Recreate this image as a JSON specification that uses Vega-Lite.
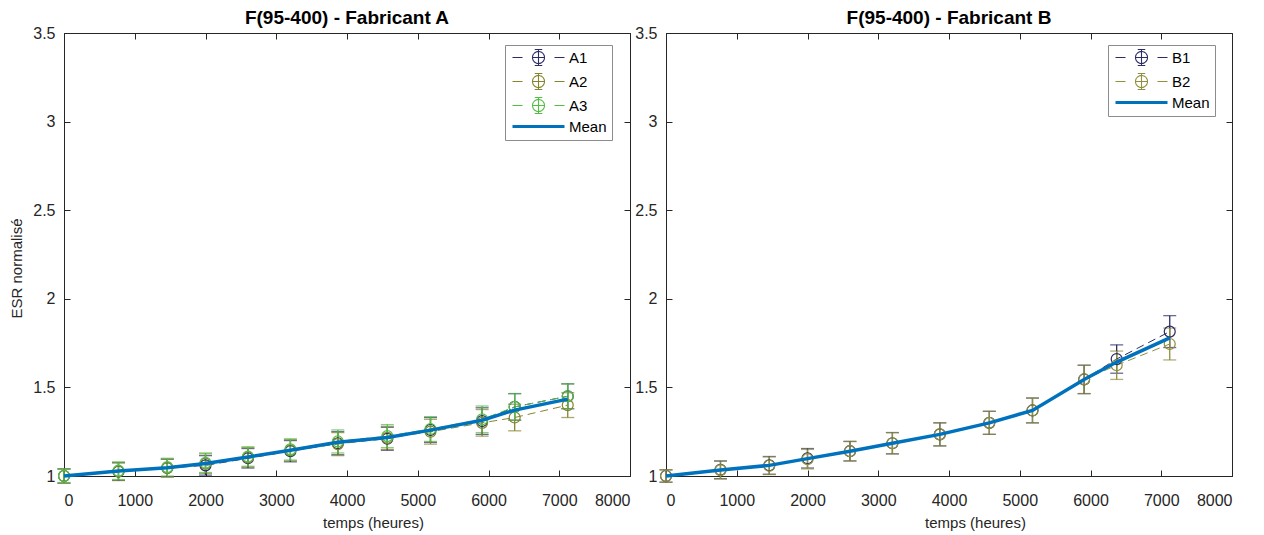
{
  "$schema": "https://vega.github.io/schema/vega-lite/v6.json",
  "background": "white",
  "padding": {"left": 9, "top": 8, "right": 5, "bottom": 5},
  "bounds": "flush",
  "spacing": 36,
  "config": {
    "font": "Liberation Sans",
    "view": {"stroke": "#262626", "strokeWidth": 1},
    "axis": {
      "domainColor": "#262626", "tickColor": "#262626", "labelColor": "#262626", "titleColor": "#262626",
      "labelFont": "Liberation Sans", "titleFont": "Liberation Sans", "labelFontSize": 16, "titleFontSize": 15,
      "titleFontWeight": "normal", "grid": false, "tickSize": -6
    },
    "legend": {"labelFont": "Liberation Sans", "labelFontSize": 15, "labelColor": "#000000"},
    "title": {"font": "Liberation Sans", "fontSize": 19, "fontWeight": "bold", "color": "#000000"}
  },
  "resolve": {"scale": {"color": "independent"}},
  "hconcat": [
    {
      "width": 566, "height": 443,
      "title": {"text": "F(95-400) - Fabricant A", "offset": -3},
      "data": {"values": [
        {"series": "A1", "t": 0, "v": 1.0, "err": 0.04},
        {"series": "A1", "t": 770, "v": 1.025, "err": 0.05},
        {"series": "A1", "t": 1460, "v": 1.045, "err": 0.05},
        {"series": "A1", "t": 2000, "v": 1.06, "err": 0.055},
        {"series": "A1", "t": 2600, "v": 1.10, "err": 0.055},
        {"series": "A1", "t": 3200, "v": 1.14, "err": 0.06},
        {"series": "A1", "t": 3870, "v": 1.185, "err": 0.065},
        {"series": "A1", "t": 4570, "v": 1.21, "err": 0.065},
        {"series": "A1", "t": 5180, "v": 1.26, "err": 0.07},
        {"series": "A1", "t": 5910, "v": 1.31, "err": 0.075},
        {"series": "A1", "t": 6370, "v": 1.39, "err": 0.075},
        {"series": "A1", "t": 7120, "v": 1.45, "err": 0.07},
        {"series": "A2", "t": 0, "v": 1.0, "err": 0.04},
        {"series": "A2", "t": 770, "v": 1.025, "err": 0.05},
        {"series": "A2", "t": 1460, "v": 1.045, "err": 0.05},
        {"series": "A2", "t": 2000, "v": 1.07, "err": 0.055},
        {"series": "A2", "t": 2600, "v": 1.105, "err": 0.055},
        {"series": "A2", "t": 3200, "v": 1.145, "err": 0.06},
        {"series": "A2", "t": 3870, "v": 1.18, "err": 0.065},
        {"series": "A2", "t": 4570, "v": 1.215, "err": 0.065},
        {"series": "A2", "t": 5180, "v": 1.25, "err": 0.07},
        {"series": "A2", "t": 5910, "v": 1.30, "err": 0.075},
        {"series": "A2", "t": 6370, "v": 1.33, "err": 0.075},
        {"series": "A2", "t": 7120, "v": 1.40, "err": 0.07},
        {"series": "A3", "t": 0, "v": 1.0, "err": 0.04},
        {"series": "A3", "t": 770, "v": 1.03, "err": 0.05},
        {"series": "A3", "t": 1460, "v": 1.05, "err": 0.05},
        {"series": "A3", "t": 2000, "v": 1.075, "err": 0.055},
        {"series": "A3", "t": 2600, "v": 1.11, "err": 0.055},
        {"series": "A3", "t": 3200, "v": 1.15, "err": 0.06},
        {"series": "A3", "t": 3870, "v": 1.195, "err": 0.065},
        {"series": "A3", "t": 4570, "v": 1.225, "err": 0.065},
        {"series": "A3", "t": 5180, "v": 1.265, "err": 0.07},
        {"series": "A3", "t": 5910, "v": 1.32, "err": 0.075},
        {"series": "A3", "t": 6370, "v": 1.39, "err": 0.075},
        {"series": "A3", "t": 7120, "v": 1.45, "err": 0.07},
        {"series": "Mean", "t": 0, "v": 1.0},
        {"series": "Mean", "t": 770, "v": 1.028},
        {"series": "Mean", "t": 1460, "v": 1.047},
        {"series": "Mean", "t": 2000, "v": 1.07},
        {"series": "Mean", "t": 2600, "v": 1.107},
        {"series": "Mean", "t": 3200, "v": 1.145},
        {"series": "Mean", "t": 3870, "v": 1.19},
        {"series": "Mean", "t": 4570, "v": 1.217},
        {"series": "Mean", "t": 5180, "v": 1.259},
        {"series": "Mean", "t": 5910, "v": 1.315},
        {"series": "Mean", "t": 6370, "v": 1.372},
        {"series": "Mean", "t": 7120, "v": 1.434}
      ]},
      "encoding": {
        "color": {"field": "series", "type": "nominal",
                  "scale": {"domain": ["A1", "A2", "A3", "Mean"], "range": ["#2b2b66", "#85852e", "#52bf44", "#0072bd"]},
                  "legend": {
                    "title": null, "orient": "none", "legendX": 441, "legendY": 12,
                    "strokeColor": "#8c8c8c", "fillColor": "white", "padding": 5,
                    "symbolSize": 100, "symbolOffset": 21, "labelOffset": 23, "rowPadding": 3,
                    "symbolFillColor": "transparent", "symbolOpacity": 1,
                    "encode": {"symbols": {"update": {
                      "shape": {"signal": "datum.value === 'Mean' ? 'M-5.2,0H5.2' : 'M-5.2,0H-3.2M-1.2,0A1.2,1.2,0,1,1,1.2,0A1.2,1.2,0,1,1,-1.2,0M-1.2,0H1.2M0,-1.6V1.6M-0.75,-1.6H0.75M-0.75,1.6H0.75M3.2,0H5.2'"},
                      "strokeWidth": {"signal": "datum.value === 'Mean' ? 3 : 1.1"},
                      "size": {"value": 100},
                      "fill": {"value": "transparent"},
                      "fillOpacity": {"value": 0},
                      "strokeOpacity": {"value": 1},
                      "strokeDash": {"value": [1, 0]},
                      "opacity": {"value": 1}
                    }}}
                  }}
      },
      "resolve": {"axis": {"x": "independent", "y": "independent"}},
      "layer": [
        {
          "transform": [{"filter": "datum.series !== 'Mean'"}],
          "mark": {"type": "errorbar", "ticks": true, "size": 13, "thickness": 1.3},
          "encoding": {
            "x": {"field": "t", "type": "quantitative", "scale": {"domain": [0, 8000], "nice": false, "zero": false},
                  "axis": {"title": "temps (heures)", "titleX": 309, "values": [0,1000,2000,3000,4000,5000,6000,7000,8000], "format": "d", "labelPadding": 22, "titlePadding": 7}},
            "y": {"field": "v", "type": "quantitative", "scale": {"domain": [1, 3.5], "nice": false, "zero": false},
                  "axis": {"title": "ESR normalisé", "titleY": 235, "values": [1,1.5,2,2.5,3,3.5], "format": "~g", "labelPadding": 15, "titlePadding": 8}},
            "yError": {"field": "err"}
          }
        },
        {
          "transform": [{"filter": "datum.series !== 'Mean'"}],
          "mark": {"type": "line", "strokeDash": [8, 5], "strokeWidth": 1},
          "encoding": {
            "x": {"field": "t", "type": "quantitative", "axis": null},
            "y": {"field": "v", "type": "quantitative", "axis": null}
          }
        },
        {
          "transform": [{"filter": "datum.series !== 'Mean'"}],
          "mark": {"type": "point", "shape": "circle", "filled": false, "size": 120, "strokeWidth": 1.2, "opacity": 1},
          "encoding": {
            "x": {"field": "t", "type": "quantitative", "axis": null},
            "y": {"field": "v", "type": "quantitative", "axis": null}
          }
        },
        {
          "transform": [{"filter": "datum.series === 'Mean'"}],
          "mark": {"type": "line", "strokeWidth": 3.5},
          "encoding": {
            "x": {"field": "t", "type": "quantitative",
                  "axis": {"orient": "top", "title": null, "labels": false, "domain": false, "values": [0,1000,2000,3000,4000,5000,6000,7000,8000]}},
            "y": {"field": "v", "type": "quantitative",
                  "axis": {"orient": "right", "title": null, "labels": false, "domain": false, "values": [1,1.5,2,2.5,3,3.5]}}
          }
        }
      ]
    },
    {
      "width": 566, "height": 443,
      "title": {"text": "F(95-400) - Fabricant B", "offset": -3},
      "data": {"values": [
        {"series": "B1", "t": 0, "v": 1.0, "err": 0.035},
        {"series": "B1", "t": 770, "v": 1.035, "err": 0.05},
        {"series": "B1", "t": 1460, "v": 1.06, "err": 0.05},
        {"series": "B1", "t": 2000, "v": 1.10, "err": 0.055},
        {"series": "B1", "t": 2600, "v": 1.14, "err": 0.055},
        {"series": "B1", "t": 3200, "v": 1.185, "err": 0.06},
        {"series": "B1", "t": 3870, "v": 1.235, "err": 0.065},
        {"series": "B1", "t": 4570, "v": 1.30, "err": 0.065},
        {"series": "B1", "t": 5180, "v": 1.37, "err": 0.07},
        {"series": "B1", "t": 5910, "v": 1.545, "err": 0.08},
        {"series": "B1", "t": 6370, "v": 1.66, "err": 0.08},
        {"series": "B1", "t": 7120, "v": 1.815, "err": 0.09},
        {"series": "B2", "t": 0, "v": 1.0, "err": 0.035},
        {"series": "B2", "t": 770, "v": 1.033, "err": 0.05},
        {"series": "B2", "t": 1460, "v": 1.058, "err": 0.05},
        {"series": "B2", "t": 2000, "v": 1.095, "err": 0.055},
        {"series": "B2", "t": 2600, "v": 1.14, "err": 0.055},
        {"series": "B2", "t": 3200, "v": 1.185, "err": 0.06},
        {"series": "B2", "t": 3870, "v": 1.235, "err": 0.065},
        {"series": "B2", "t": 4570, "v": 1.30, "err": 0.065},
        {"series": "B2", "t": 5180, "v": 1.37, "err": 0.07},
        {"series": "B2", "t": 5910, "v": 1.545, "err": 0.08},
        {"series": "B2", "t": 6370, "v": 1.625, "err": 0.08},
        {"series": "B2", "t": 7120, "v": 1.745, "err": 0.09},
        {"series": "Mean", "t": 0, "v": 1.0},
        {"series": "Mean", "t": 770, "v": 1.034},
        {"series": "Mean", "t": 1460, "v": 1.06},
        {"series": "Mean", "t": 2000, "v": 1.098},
        {"series": "Mean", "t": 2600, "v": 1.14},
        {"series": "Mean", "t": 3200, "v": 1.185},
        {"series": "Mean", "t": 3870, "v": 1.235},
        {"series": "Mean", "t": 4570, "v": 1.30},
        {"series": "Mean", "t": 5180, "v": 1.37},
        {"series": "Mean", "t": 5910, "v": 1.545},
        {"series": "Mean", "t": 6370, "v": 1.643},
        {"series": "Mean", "t": 7120, "v": 1.78}
      ]},
      "encoding": {
        "color": {"field": "series", "type": "nominal",
                  "scale": {"domain": ["B1", "B2", "Mean"], "range": ["#2b2b66", "#8f8f3c", "#0072bd"]},
                  "legend": {
                    "title": null, "orient": "none", "legendX": 442, "legendY": 12,
                    "strokeColor": "#8c8c8c", "fillColor": "white", "padding": 5,
                    "symbolSize": 100, "symbolOffset": 21, "labelOffset": 23, "rowPadding": 3,
                    "symbolFillColor": "transparent", "symbolOpacity": 1,
                    "encode": {"symbols": {"update": {
                      "shape": {"signal": "datum.value === 'Mean' ? 'M-5.2,0H5.2' : 'M-5.2,0H-3.2M-1.2,0A1.2,1.2,0,1,1,1.2,0A1.2,1.2,0,1,1,-1.2,0M-1.2,0H1.2M0,-1.6V1.6M-0.75,-1.6H0.75M-0.75,1.6H0.75M3.2,0H5.2'"},
                      "strokeWidth": {"signal": "datum.value === 'Mean' ? 3 : 1.1"},
                      "size": {"value": 100},
                      "fill": {"value": "transparent"},
                      "fillOpacity": {"value": 0},
                      "strokeOpacity": {"value": 1},
                      "strokeDash": {"value": [1, 0]},
                      "opacity": {"value": 1}
                    }}}
                  }}
      },
      "resolve": {"axis": {"x": "independent", "y": "independent"}},
      "layer": [
        {
          "transform": [{"filter": "datum.series !== 'Mean'"}],
          "mark": {"type": "errorbar", "ticks": true, "size": 13, "thickness": 1.3},
          "encoding": {
            "x": {"field": "t", "type": "quantitative", "scale": {"domain": [0, 8000], "nice": false, "zero": false},
                  "axis": {"title": "temps (heures)", "titleX": 309, "values": [0,1000,2000,3000,4000,5000,6000,7000,8000], "format": "d", "labelPadding": 22, "titlePadding": 7}},
            "y": {"field": "v", "type": "quantitative", "scale": {"domain": [1, 3.5], "nice": false, "zero": false},
                  "axis": {"title": null, "values": [1,1.5,2,2.5,3,3.5], "format": "~g", "labelPadding": 15}},
            "yError": {"field": "err"}
          }
        },
        {
          "transform": [{"filter": "datum.series !== 'Mean'"}],
          "mark": {"type": "line", "strokeDash": [8, 5], "strokeWidth": 1},
          "encoding": {
            "x": {"field": "t", "type": "quantitative", "axis": null},
            "y": {"field": "v", "type": "quantitative", "axis": null}
          }
        },
        {
          "transform": [{"filter": "datum.series !== 'Mean'"}],
          "mark": {"type": "point", "shape": "circle", "filled": false, "size": 120, "strokeWidth": 1.2, "opacity": 1},
          "encoding": {
            "x": {"field": "t", "type": "quantitative", "axis": null},
            "y": {"field": "v", "type": "quantitative", "axis": null}
          }
        },
        {
          "transform": [{"filter": "datum.series === 'Mean'"}],
          "mark": {"type": "line", "strokeWidth": 3.5},
          "encoding": {
            "x": {"field": "t", "type": "quantitative",
                  "axis": {"orient": "top", "title": null, "labels": false, "domain": false, "values": [0,1000,2000,3000,4000,5000,6000,7000,8000]}},
            "y": {"field": "v", "type": "quantitative",
                  "axis": {"orient": "right", "title": null, "labels": false, "domain": false, "values": [1,1.5,2,2.5,3,3.5]}}
          }
        }
      ]
    }
  ]
}
